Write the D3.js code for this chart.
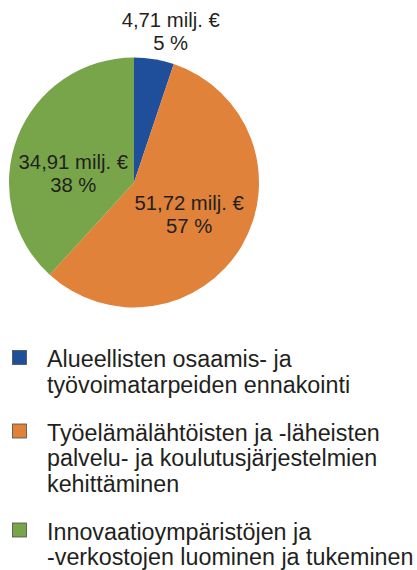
<!DOCTYPE html>
<html>
<head>
<meta charset="utf-8">
<script src="https://cdn.jsdelivr.net/npm/d3@7"></script>
<style>
  html, body { margin: 0; padding: 0; background: #fff; }
  svg { display: block; font-family: "Liberation Sans", Arial, sans-serif; }
</style>
</head>
<body>
<div id="chart"></div>
<script>
// chart values
const values = [4.71, 51.72, 34.91];
const amountLabels = ['4,71 milj. €', '51,72 milj. €', '34,91 milj. €'];
const percentLabels = ['5 %', '57 %', '38 %'];
const legendLines = [
    ['Alueellisten osaamis- ja', 'työvoimatarpeiden ennakointi'],
    ['Työelämälähtöisten ja -läheisten', 'palvelu- ja koulutusjärjestelmien', 'kehittäminen'],
    ['Innovaatioympäristöjen ja', '-verkostojen luominen ja tukeminen']
];
const colors = ['#1f4e9b', '#e0823a', '#78a54a'];

const width = 417, height = 570;
const textColor = '#231f20';

const svg = d3.select('#chart').append('svg')
    .attr('width', width)
    .attr('height', height);

// pie
const cx = 134, cy = 182.5, radius = 125;
const pie = d3.pie().sort(null).value(d => d);
const arcs = pie(values);
const arc = d3.arc().innerRadius(0).outerRadius(radius);

const pieG = svg.append('g')
    .attr('transform', `translate(${cx},${cy})`);

pieG.selectAll('path.slice')
    .data(arcs)
    .join('path')
    .attr('class', 'slice')
    .attr('fill', (d, i) => colors[i])
    .attr('d', arc);

// label placement (radius along bisector + small nudge, like Excel's best fit)
const labelRadius = [153, 64, 63];
const labelNudge = [[12, 0], [0, 0], [-2, 14]];

const labels = pieG.selectAll('text.label')
    .data(arcs)
    .join('text')
    .attr('class', 'label')
    .attr('text-anchor', 'middle')
    .attr('font-size', '20.3px')
    .attr('fill', textColor)
    .attr('transform', (d, i) => {
        const c = d3.arc().innerRadius(labelRadius[i]).outerRadius(labelRadius[i]).centroid(d);
        return `translate(${c[0] + labelNudge[i][0]},${c[1] + labelNudge[i][1]})`;
    });

labels.append('tspan')
    .attr('x', 0)
    .attr('y', -4.5)
    .text((d, i) => amountLabels[i]);

labels.append('tspan')
    .attr('x', 0)
    .attr('y', 18.5)
    .text((d, i) => percentLabels[i]);

// legend
const lineH = 25.5, gap = 22.5;
const legend = svg.append('g').attr('class', 'legend');
let baseY = 367;
legendLines.forEach((lines, i) => {
    const g = legend.append('g');
    g.append('rect')
        .attr('x', 12.5)
        .attr('y', baseY - 16.5)
        .attr('width', 14)
        .attr('height', 14)
        .attr('fill', colors[i])
        .attr('stroke', '#4d4d4d')
        .attr('stroke-width', 0.8);
    g.selectAll('text')
        .data(lines)
        .join('text')
        .attr('x', 47)
        .attr('y', (d, j) => baseY + j * lineH)
        .attr('font-size', '23.3px')
        .attr('fill', textColor)
        .text(d => d);
    baseY += lines.length * lineH + gap;
});
</script>
</body>
</html>
